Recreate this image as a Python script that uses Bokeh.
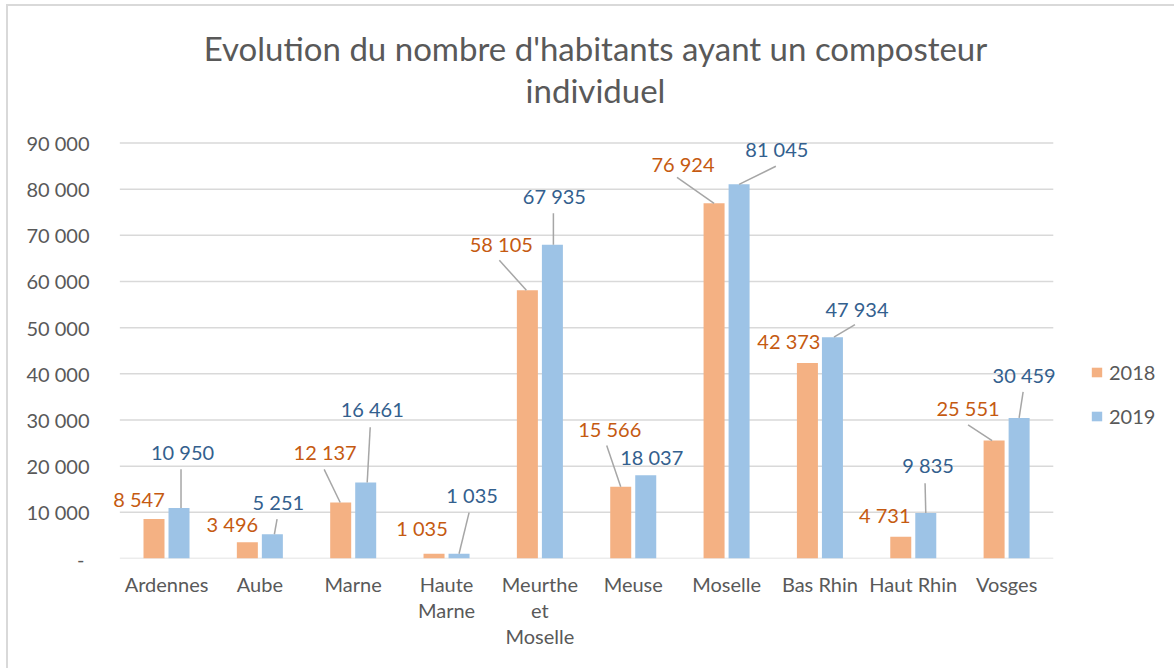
from bokeh.plotting import figure
from bokeh.models import (ColumnDataSource, Range1d, FixedTicker, CustomJSTickFormatter,
                          Legend, LegendItem, Label)
from bokeh.core.properties import value
from bokeh.embed import file_html
from bokeh.resources import INLINE

# ---------------- data ----------------
categories = ["Ardennes", "Aube", "Marne", "Haute\nMarne", "Meurthe\net\nMoselle",
              "Meuse", "Moselle", "Bas Rhin", "Haut Rhin", "Vosges"]
values_2018 = [8547, 3496, 12137, 1035, 58105, 15566, 76924, 42373, 4731, 25551]
values_2019 = [10950, 5251, 16461, 1035, 67935, 18037, 81045, 47934, 9835, 30459]
series_names = ["2018", "2019"]
y_ticks = [0, 10000, 20000, 30000, 40000, 50000, 60000, 70000, 80000, 90000]
title_lines = ["Evolution du nombre d'habitants ayant un composteur", "individuel"]

# ---------------- layout / style ----------------
CW, CH = 1166, 662              # canvas content size
BL, BB = 102, 112               # left / bottom borders (axes)
FW, FH = CW - BL, CH - BB       # frame covers the rest (so texts are not clipped)
PX_X = 93.17                    # px per category
PX_Y = 414 / 90000              # px per value unit
XMIN = -0.1
XMAX = XMIN + FW / PX_X
YMAX = FH / PX_Y
NCAT = len(categories)
BAR_W = 0.225
BAR_OFF = 0.134

C_2018, C_2019 = "#F4B183", "#9DC3E6"
T_2018, T_2019 = "#C55A11", "#33608E"
GRAY = "#595959"
GRID = "#D9D9D9"
FONT = "Lato"

# label offsets (px, relative to bar top centre; dy up)
lab_2018 = [(-15, 20), (-15, 18), (-15.5, 50), (-12, 26), (-26, 46), (-11, 57),
            (-31, 39), (-18.5, 22), (-16, 22), (-26, 32.5)]
lead_2018 = [None, None, (-16.5, 33, -0.5), None, (-28, 30, -1), (-14, 41, 0),
             (-37, 26, 0), None, None, (-26, 15.5, -2)]
lab_2019 = [(3.5, 55.6), (6, 32), (6.5, 73), (13, 59), (2, 48.5), (6, 18),
            (37.7, 35), (24.5, 28.5), (2.3, 47.8), (5, 43)]
lead_2019 = [(2, 38.6, 2), (4.7, 15, 2), (4.5, 55, 1.5), (10, 41, 0), (1, 31.5, 1), None,
             (36.7, 18, 0), (22.5, 12.5, 1.5), (-0.7, 29.8, 0), (4, 26, 0)]

p = figure(width=CW + 2, height=CH + 2, x_range=Range1d(XMIN, XMAX), y_range=Range1d(0, YMAX),
           output_backend="svg", toolbar_location=None,
           min_border_left=BL, min_border_right=0, min_border_top=0, min_border_bottom=BB)
p.outline_line_color = None
p.background_fill_color = "white"
p.border_fill_color = "white"
p.styles = {"border-top": "2px solid #D9D9D9", "border-left": "2px solid #D9D9D9",
            "margin-left": "6px", "margin-top": "4px"}

p.xgrid.grid_line_color = None
p.ygrid.grid_line_color = None

# horizontal gridlines over the category span only
p.segment(x0=[0] * len(y_ticks), x1=[NCAT] * len(y_ticks), y0=y_ticks, y1=y_ticks,
          line_color=GRID, line_width=1.5)

# y axis
p.yaxis.ticker = FixedTicker(ticks=y_ticks)
p.yaxis.formatter = CustomJSTickFormatter(code="""
if (tick == 0) { return "-\u00a0"; }
return Math.round(tick).toString().replace(/\\B(?=(\\d{3})+(?!\\d))/g, " ");
""")
p.yaxis.axis_line_color = None
p.yaxis.major_tick_line_color = None
p.yaxis.minor_tick_line_color = None
p.yaxis.major_label_standoff = 15
p.yaxis.major_label_text_font = FONT
p.yaxis.major_label_text_font_size = "20px"
p.yaxis.major_label_text_color = GRAY

# x axis
p.xaxis.ticker = FixedTicker(ticks=[i + 0.5 for i in range(NCAT)])
p.xaxis.formatter = CustomJSTickFormatter(args=dict(names=categories),
                                          code="return names[Math.floor(tick)];")
p.xaxis.axis_line_color = None
p.xaxis.major_tick_line_color = None
p.xaxis.minor_tick_line_color = None
p.xaxis.major_label_standoff = 7
p.xaxis.major_label_text_font = FONT
p.xaxis.major_label_text_font_size = "20px"
p.xaxis.major_label_text_color = GRAY
p.xaxis.major_label_text_line_height = 1.1

# bars
x18 = [i + 0.5 - BAR_OFF for i in range(NCAT)]
x19 = [i + 0.5 + BAR_OFF for i in range(NCAT)]
r18 = p.vbar(x=x18, top=values_2018, width=BAR_W, fill_color=C_2018, line_color=None)
r19 = p.vbar(x=x19, top=values_2019, width=BAR_W, fill_color=C_2019, line_color=None)


def fmt(v):
    return f"{v:,}".replace(",", " ")


def add_labels(xs, vals, labs, leads, color):
    lx = [x + d[0] / PX_X for x, d in zip(xs, labs)]
    ly = [v + d[1] / PX_Y for v, d in zip(vals, labs)]
    src = ColumnDataSource(dict(x=lx, y=ly, t=[fmt(v) for v in vals]))
    p.text(x="x", y="y", text="t", source=src, text_align="center", text_baseline="middle",
           text_font=value(FONT), text_font_size="20px", text_color=color)
    x0, y0, x1, y1 = [], [], [], []
    for x, v, ld in zip(xs, vals, leads):
        if ld is None:
            continue
        x0.append(x + ld[0] / PX_X)
        y0.append(v + ld[1] / PX_Y)
        x1.append(x + ld[2] / PX_X)
        y1.append(v)
    p.segment(x0=x0, y0=y0, x1=x1, y1=y1, line_color="#A6A6A6", line_width=1.5)


add_labels(x18, values_2018, lab_2018, lead_2018, T_2018)
add_labels(x19, values_2019, lab_2019, lead_2019, T_2019)

# title (two centred lines, screen px from frame bottom-left)
for i, line in enumerate(title_lines):
    p.add_layout(Label(x=485, y=511 - 42 * i, x_units="screen", y_units="screen", text=line,
                       text_align="center", text_baseline="middle", text_font=FONT,
                       text_font_size="33px", text_color=GRAY))

# legend
legend = Legend(items=[LegendItem(label=series_names[0], renderers=[r18]),
                       LegendItem(label=series_names[1], renderers=[r19])],
                location=(980, 130), orientation="vertical",
                glyph_width=13, glyph_height=12, label_standoff=6, label_height=20,
                spacing=20, padding=0, margin=0, border_line_color=None,
                background_fill_alpha=0, label_text_font=FONT, label_text_font_size="20px",
                label_text_color=GRAY)
p.add_layout(legend)

open("out.html", "w").write(file_html(p, INLINE))
